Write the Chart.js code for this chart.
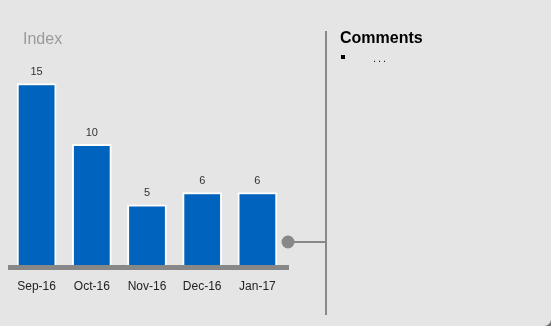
<!DOCTYPE html>
<html>
<head>
<meta charset="utf-8">
<script src="https://cdn.jsdelivr.net/npm/chart.js@4"></script>
<style>
  html, body { margin: 0; padding: 0; background: #707070; }
  #panel { position: relative; width: 551px; height: 326px; background: #e5e5e5; border-bottom-right-radius: 7px; overflow: hidden; font-family: "Liberation Sans", Arial, sans-serif; }
  #chart { position: absolute; left: 0; top: 0; }
  #indexTitle { position: absolute; left: 23px; top: 30px; font-size: 16px; color: #9a9a9a; }
  #comments { position: absolute; left: 340px; top: 29px; }
  #comments h3 { margin: 0; font-size: 16px; font-weight: bold; color: #000; }
  #comments ul { margin: 5px 0 0 0; padding: 0; list-style: none; }
  #comments li { position: relative; padding-left: 33px; font-size: 11px; color: #222; letter-spacing: 2px; }
  #comments li:before { content: ""; position: absolute; left: 1px; top: 3px; width: 4px; height: 4px; background: #000; }
</style>
</head>
<body>
<div id="panel">
  <canvas id="chart" width="551" height="326"></canvas>
  <div id="indexTitle">Index</div>
  <div id="comments">
    <h3>Comments</h3>
    <ul><li>...</li></ul>
  </div>
</div>
<script>
// monthly index values
var months = ['Sep-16', 'Oct-16', 'Nov-16', 'Dec-16', 'Jan-17'];
var indexValues = [15, 10, 5, 6, 6];

var barBlue = '#0063be';
var lineGrey = '#888888';

// grey base under the bars, connector dot and the divider line
var decorations = {
  id: 'decorations',
  beforeDatasetsDraw: function(chart) {
    var ctx = chart.ctx, a = chart.chartArea;
    ctx.save();
    ctx.fillStyle = lineGrey;
    ctx.fillRect(a.left - 1, a.bottom, a.right - a.left + 5, 5);

    var cx = a.right + 3, cy = a.bottom - 23;
    ctx.strokeStyle = lineGrey;
    ctx.lineWidth = 2;
    ctx.beginPath();
    ctx.moveTo(cx, cy);
    ctx.lineTo(326, cy);
    ctx.moveTo(326, 31);
    ctx.lineTo(326, 315);
    ctx.stroke();

    ctx.beginPath();
    ctx.arc(cx, cy, 6.5, 0, Math.PI * 2);
    ctx.fill();
    ctx.restore();
  }
};

// value printed above each bar
var valueLabels = {
  id: 'valueLabels',
  afterDatasetsDraw: function(chart) {
    var ctx = chart.ctx;
    var meta = chart.getDatasetMeta(0);
    ctx.save();
    ctx.font = '11px "Liberation Sans", Arial, sans-serif';
    ctx.fillStyle = '#333333';
    ctx.textAlign = 'center';
    ctx.textBaseline = 'middle';
    meta.data.forEach(function(bar, i) {
      ctx.fillText(indexValues[i], bar.x, bar.y - 11);
    });
    ctx.restore();
  }
};

new Chart(document.getElementById('chart'), {
  type: 'bar',
  data: {
    labels: months,
    datasets: [{
      data: indexValues,
      backgroundColor: barBlue,
      borderColor: '#ffffff',
      borderWidth: 2,
      categoryPercentage: 1,
      barPercentage: 0.72
    }]
  },
  options: {
    responsive: false,
    animation: false,
    layout: { padding: { left: 9, right: 266, top: 47, bottom: 0 } },
    plugins: { legend: { display: false }, tooltip: { enabled: false } },
    scales: {
      x: {
        grid: { display: false, drawTicks: false },
        border: { display: false },
        ticks: {
          padding: 14,
          color: '#222222',
          font: { family: '"Liberation Sans", Arial, sans-serif', size: 12 }
        },
        afterFit: function(s) { s.height = 61; }
      },
      y: { display: false, min: 0, max: 18 }
    }
  },
  plugins: [decorations, valueLabels]
});
</script>
</body>
</html>
